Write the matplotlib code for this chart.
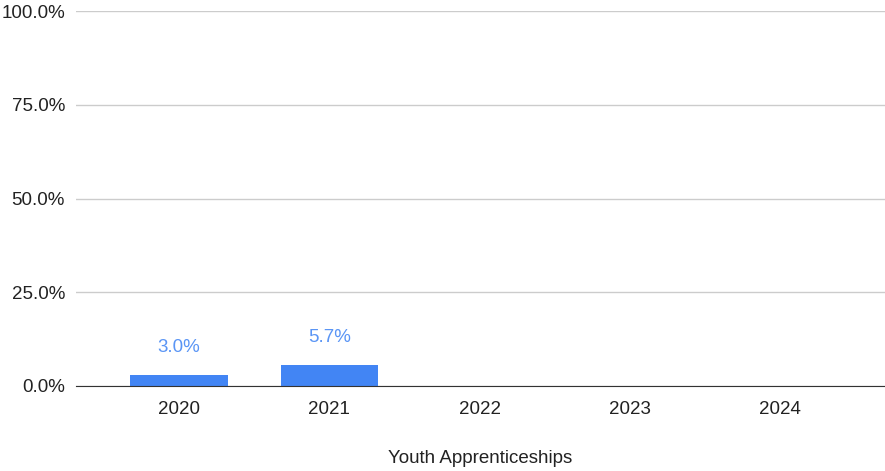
import matplotlib
matplotlib.use("Agg")
import matplotlib.pyplot as plt
from matplotlib.ticker import FuncFormatter

plt.rcParams['font.family'] = ['Liberation Sans', 'DejaVu Sans']

years  = ['2020', '2021', '2022', '2023', '2024']
values = [3.0, 5.7, 0.0, 0.0, 0.0]
yticks = [0, 25, 50, 75, 100]

BAR  = '#4285f4'
TEXT = '#5a95f5'
FS = 13.5

fig = plt.figure(figsize=(8.85, 4.71), dpi=100)
ax = fig.add_axes([0.0859, 0.1805, 0.9141, 0.7961])

x = list(range(len(years)))
ax.bar(x, values, width=0.65, color=BAR, zorder=3)
for xi, v in zip(x, values):
    if v > 0:
        ax.annotate(f'{v:.1f}%', (xi, v), xytext=(0, 13.5), textcoords='offset points',
                    ha='center', va='bottom', color=TEXT, fontsize=FS)

ax.set_ylim(0, 100)
ax.set_xlim(-0.687, 4.7)
ax.set_yticks(yticks)
ax.yaxis.set_major_formatter(FuncFormatter(lambda v, p: f'{v:.1f}%'))
ax.set_xticks(x)
ax.set_xticklabels(years)
ax.tick_params(length=0, labelsize=FS, colors='#222222')
ax.tick_params(axis='x', pad=11)
ax.tick_params(axis='y', pad=8)
ax.grid(axis='y', color='#cccccc', linewidth=1, zorder=0)
for s in ['top', 'right', 'left']:
    ax.spines[s].set_visible(False)
ax.spines['bottom'].set_color('#333333')
ax.spines['bottom'].set_zorder(4)
ax.set_xlabel('Youth Apprenticeships', fontsize=FS, color='#222222', labelpad=23)

fig.savefig('out.png', dpi=100)
